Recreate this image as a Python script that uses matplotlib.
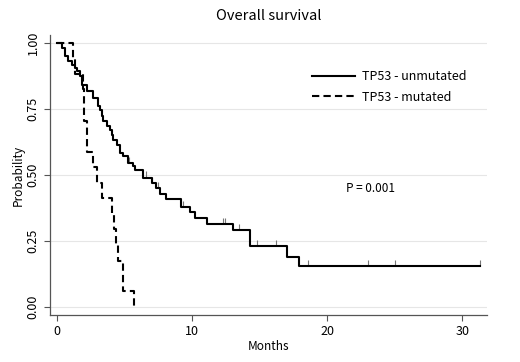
import matplotlib
matplotlib.use('Agg')
import matplotlib.pyplot as plt
import numpy as np

plt.rcParams['font.family'] = ['Noto Sans CJK JP', 'DejaVu Sans']

# TP53 unmutated: event times (months) and survival after each step
unmut_t = [0, 0.37, 0.6, 0.8, 1.1, 1.3, 1.5, 1.7, 1.85, 2.2, 2.67, 3.04, 3.19, 3.33,
           3.4, 3.7, 3.9, 4.07, 4.15, 4.44, 4.67, 4.9, 5.26, 5.6, 5.78, 6.4, 7.0,
           7.3, 7.6, 8.1, 9.15, 9.85, 10.2, 11.1, 13.0, 14.3, 17.0, 17.9]
unmut_s = [1.0, 0.98, 0.95, 0.932, 0.917, 0.905, 0.894, 0.875, 0.84, 0.818, 0.79,
           0.761, 0.746, 0.723, 0.705, 0.686, 0.67, 0.65, 0.633, 0.614, 0.583, 0.572,
           0.545, 0.534, 0.519, 0.49, 0.47, 0.45, 0.43, 0.41, 0.38, 0.36, 0.337,
           0.315, 0.29, 0.23, 0.19, 0.155]
unmut_end = 31.3
unmut_cens = [5.3, 6.6, 7.05, 7.5, 9.3, 12.3, 12.45, 13.5, 14.8, 16.2, 18.6, 23.0, 25.0, 31.3]

# TP53 mutated
mut_t = [0, 1.2, 1.3, 1.9, 2.0, 2.2, 2.7, 3.0, 3.3, 4.1, 4.2, 4.4, 4.5, 4.9, 5.7]
mut_s = [1.0, 0.941, 0.882, 0.824, 0.706, 0.588, 0.529, 0.471, 0.412, 0.353, 0.294,
         0.235, 0.176, 0.059, 0.0]

fig = plt.figure(figsize=(5.2, 3.62), dpi=100)
ax = fig.add_axes([0.096, 0.13, 0.841, 0.773])

grid_col = '#e6e6e6'
for yv in [0, 0.25, 0.5, 0.75, 1.0]:
    ax.axhline(yv, color=grid_col, lw=0.8, zorder=0)

ax.step(unmut_t + [unmut_end], unmut_s + [unmut_s[-1]], where='post',
        color='black', lw=1.5, label='TP53 - unmutated', zorder=3)
ax.step(mut_t, mut_s, where='post', color='black', lw=1.5,
        linestyle=(0, (3.5, 2)), label='TP53 - mutated', zorder=3)

# censor marks
cens_y = [unmut_s[np.searchsorted(unmut_t, c, side='right') - 1] for c in unmut_cens]
ax.plot(unmut_cens, np.array(cens_y) + 0.012, linestyle='none', marker='|',
        markersize=4, color='#777777', mew=0.8, zorder=2)

ax.set_xlim(-0.52, 31.85)
ax.set_ylim(-0.03, 1.03)
ax.set_xticks([0, 10, 20, 30])
ax.set_yticks([0, 0.25, 0.5, 0.75, 1.0])
ax.set_yticklabels(['0.00', '0.25', '0.50', '0.75', '1.00'], rotation=90, va='center')
ax.tick_params(labelsize=9, color='#555555', length=4, width=0.8)

for s in ['top', 'right']:
    ax.spines[s].set_visible(False)
for s in ['left', 'bottom']:
    ax.spines[s].set_color('#555555')
    ax.spines[s].set_linewidth(0.9)

ax.set_xlabel('Months', fontsize=8.5, labelpad=1)
ax.set_ylabel('Probability', fontsize=8.5, labelpad=1)
ax.set_title('Overall survival', fontsize=10.5, pad=11)

ax.text(23.2, 0.45, 'P = 0.001', fontsize=8.5, ha='center', va='center')

ax.legend(loc='upper left', bbox_to_anchor=(0.6, 0.875), frameon=False,
          fontsize=9, handlelength=3.4, handletextpad=0.55, labelspacing=0.6,
          borderpad=0, borderaxespad=0)

fig.savefig('out.png', dpi=100)
